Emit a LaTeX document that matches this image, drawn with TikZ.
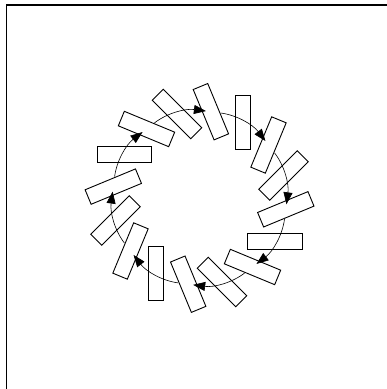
\documentclass[tikz,border=0pt]{standalone}
\usetikzlibrary{arrows.meta}
\definecolor{ink}{HTML}{000000}
\tikzset{
  slat/.style={draw=ink,line width=0.9pt,minimum width=54.5pt,minimum height=15.7pt,inner sep=0pt},
  flow/.style={-{Triangle[length=12pt,width=9pt]},line width=0.6pt,ink,shorten <=10pt,shorten >=5pt},
  frame/.style={draw=ink,line width=1.3pt}
}

\begin{document}
\begin{tikzpicture}[x=1pt,y=1pt]
\useasboundingbox (0,0) rectangle (387,389);
% page frame, cut at the right and bottom
\draw[frame] (6.5,0) |- (387,384);
% ring of slats, one every 22.5 deg, turned 30 deg past the radius
\node[slat,rotate=90]     (s1)  at (243.0,266.3) {};
\node[slat,rotate=67.5]   (s2)  at (268.5,244.0) {};
\node[slat,rotate=45]     (s3)  at (283.5,213.5) {};
\node[slat,rotate=22.5]   (s4)  at (285.8,179.7) {};
\node[slat,rotate=0]      (s5)  at (274.8,147.5) {};
\node[slat,rotate=-22.5]  (s6)  at (252.5,122.0) {};
\node[slat,rotate=-45]    (s7)  at (222.0,107.0) {};
\node[slat,rotate=-67.5]  (s8)  at (188.2,104.8) {};
\node[slat,rotate=-90]    (s9)  at (156.0,115.7) {};
\node[slat,rotate=-112.5] (s10) at (130.5,138.0) {};
\node[slat,rotate=-135]   (s11) at (115.5,168.5) {};
\node[slat,rotate=-157.5] (s12) at (113.3,202.4) {};
\node[slat,rotate=-180]   (s13) at (124.2,234.5) {};
\node[slat,rotate=-202.5] (s14) at (146.5,260.0) {};
\node[slat,rotate=-225]   (s15) at (177.0,275.0) {};
\node[slat,rotate=-247.5] (s16) at (210.9,277.3) {};
% every second slat, clockwise
\draw[flow] (s14.center) to[bend left=22.5] (s16.center);
\draw[flow] (s16.center) to[bend left=22.5] (s2.center);
\draw[flow] (s2.center)  to[bend left=22.5] (s4.center);
\draw[flow] (s4.center)  to[bend left=22.5] (s6.center);
\draw[flow] (s6.center)  to[bend left=22.5] (s8.center);
\draw[flow] (s8.center)  to[bend left=22.5] (s10.center);
\draw[flow] (s10.center) to[bend left=22.5] (s12.center);
\draw[flow] (s12.center) to[bend left=22.5] (s14.center);
\end{tikzpicture}
\end{document}
